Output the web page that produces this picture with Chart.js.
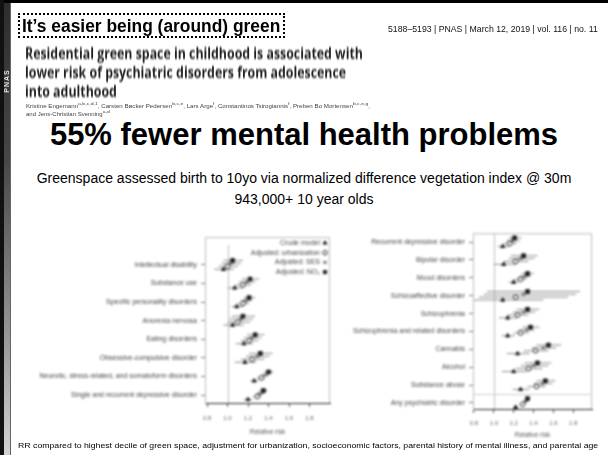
<!DOCTYPE html>
<html>
<head>
<meta charset="utf-8">
<title>Green space and psychiatric risk</title>
<script src="https://cdn.jsdelivr.net/npm/chart.js@4.4.1/dist/chart.umd.min.js"></script>
<style>
body { margin:0; width:608px; height:455px; overflow:hidden; position:relative; background:#fff; font-family:"Liberation Sans", Arial, Helvetica, sans-serif; color:#000; }
.abs { position:absolute; white-space:nowrap; transform-origin:0 0; }
#topbar { left:0; top:0; width:608px; height:3px; background:#000; }
#edge { left:0; top:0; width:4px; height:455px; background:#111; }
#band { left:4px; top:3px; width:6px; height:452px; background:linear-gradient(#2e2e2e, #474747 35%, #9a9a9a 75%, #d2d2d2); border-right:1px solid #666; }
#pnas { left:-9px; top:77px; width:32px; height:8px; line-height:8px; font-size:7px; font-weight:bold; letter-spacing:1px; text-align:center; color:#ddd; transform:rotate(-90deg); transform-origin:50% 50%; filter:blur(0.5px); }
#titlebox { left:18px; top:13px; width:263px; height:21px; border:2px dotted #000; }
#title { left:22px; top:16px; font-size:18px; line-height:21px; font-weight:bold; }
#cite { left:388px; top:24px; font-size:9px; line-height:11px; color:#111; }
.paper { left:25px; font-family:"Open Sans", sans-serif; font-weight:700; font-size:16px; line-height:19px; color:#222; filter:blur(0.8px); }
.authors { left:26px; font-size:5px; line-height:8px; color:#444; filter:blur(0.6px); }
#headline { left:0; width:608px; top:117px; text-align:center; font-size:31px; line-height:36px; font-weight:bold; }
.sub { left:0; width:608px; text-align:center; font-size:14px; line-height:16px; }
#note { left:18px; top:441px; font-size:8px; line-height:10px; }
canvas { position:absolute; filter:blur(0.85px); }
#leftPlot { left:12px; top:228px; }
#rightPlot { left:320px; top:225px; }
</style>
</head>
<body>
<div id="topbar" class="abs"></div>
<div id="edge" class="abs"></div>
<div id="band" class="abs"></div>
<div id="pnas" class="abs">PNAS</div>

<div id="titlebox" class="abs"></div>
<div id="title" class="abs" data-w="258">It’s easier being (around) green</div>
<div id="cite" class="abs" data-w="210">5188–5193 | PNAS | March 12, 2019 | vol. 116 | no. 11</div>

<div id="paper1" class="abs paper" style="top:44px" data-w="338">Residential green space in childhood is associated with</div>
<div class="abs paper follow" style="top:63px">lower risk of psychiatric disorders from adolescence</div>
<div class="abs paper follow" style="top:82px">into adulthood</div>
<div class="abs authors" style="top:100px" data-w="344">Kristine Engemann<sup>a,b,c,d,1</sup>, Carsten Bøcker Pedersen<sup>b,c,e</sup>, Lars Arge<sup>f</sup>, Constantinos Tsirogiannis<sup>f</sup>, Preben Bo Mortensen<sup>b,c,e,g</sup>,</div>
<div class="abs authors" style="top:108px" data-w="84">and Jens-Christian Svenning<sup>a,d</sup></div>

<div id="headline" class="abs">55% fewer mental health problems</div>
<div class="abs sub" style="top:170px">Greenspace assessed birth to 10yo via normalized difference vegetation index @ 30m</div>
<div class="abs sub" style="top:191px">943,000+ 10 year olds</div>

<canvas id="leftPlot" width="326" height="212"></canvas>
<canvas id="rightPlot" width="285" height="220"></canvas>

<div id="note" class="abs" data-w="580">RR compared to highest decile of green space, adjustment for urbanization, socioeconomic factors, parental history of mental illness, and parental age</div>

<script>
// model order: crude, + urbanization, + SES, + NO2
const models = ['Crude model', 'Adjusted: urbanization', 'Adjusted: SES', 'Adjusted: NO₂'];
const xTicks = [0.8, 1.0, 1.2, 1.4, 1.6, 1.8];

const leftRows = ['Intellectual disability', 'Substance use', 'Specific personality disorders', 'Anorexia nervosa',
  'Eating disorders', 'Obsessive-compulsive disorder', 'Neurotic, stress-related, and somatoform disorders',
  'Single and recurrent depressive disorder'];
const leftCrude = [0.96, 1.07, 1.09, 1.05, 1.16, 1.17, 1.26, 1.20];
const leftUrban = [1.00, 1.15, 1.15, 1.10, 1.21, 1.24, 1.33, 1.29];
const leftSes   = [1.03, 1.19, 1.18, 1.13, 1.24, 1.29, 1.37, 1.32];
const leftNo2   = [1.05, 1.22, 1.21, 1.15, 1.27, 1.32, 1.40, 1.35];
const leftCrudeCI = [[0.87, 1.06], [1.00, 1.15], [1.04, 1.15], [0.96, 1.16], [1.08, 1.25], [1.07, 1.28], [1.22, 1.30], [1.16, 1.24]];
const leftUrbanCI = [[0.91, 1.10], [1.08, 1.23], [1.10, 1.21], [1.00, 1.22], [1.13, 1.30], [1.13, 1.36], [1.29, 1.37], [1.25, 1.33]];
const leftSesCI   = [[0.94, 1.13], [1.11, 1.27], [1.13, 1.24], [1.02, 1.25], [1.16, 1.33], [1.18, 1.41], [1.33, 1.41], [1.28, 1.36]];
const leftNo2CI   = [[0.96, 1.15], [1.14, 1.31], [1.16, 1.27], [1.04, 1.27], [1.19, 1.36], [1.21, 1.44], [1.36, 1.45], [1.31, 1.39]];

const rightRows = ['Recurrent depressive disorder', 'Bipolar disorder', 'Mood disorders', 'Schizoaffective disorder',
  'Schizophrenia', 'Schizophrenia and related disorders', 'Cannabis', 'Alcohol', 'Substance abuse',
  'Any psychiatric disorder'];
const rightCrude = [1.09, 1.10, 1.20, 1.09, 1.14, 1.14, 1.24, 1.20, 1.27, 1.22];
const rightUrban = [1.16, 1.22, 1.27, 1.22, 1.24, 1.27, 1.42, 1.35, 1.43, 1.29];
const rightSes   = [1.19, 1.27, 1.31, 1.30, 1.30, 1.33, 1.50, 1.40, 1.49, 1.32];
const rightNo2   = [1.21, 1.30, 1.34, 1.34, 1.34, 1.37, 1.55, 1.44, 1.52, 1.34];
const rightCrudeCI = [[1.04, 1.15], [1.00, 1.22], [1.15, 1.25], [0.80, 1.50], [1.05, 1.24], [1.08, 1.21], [1.13, 1.36], [1.08, 1.33], [1.19, 1.36], [1.20, 1.24]];
const rightUrbanCI = [[1.10, 1.23], [1.10, 1.35], [1.21, 1.33], [0.85, 1.75], [1.14, 1.35], [1.20, 1.35], [1.30, 1.55], [1.22, 1.49], [1.34, 1.52], [1.27, 1.31]];
const rightSesCI   = [[1.13, 1.26], [1.15, 1.41], [1.25, 1.37], [0.90, 1.83], [1.19, 1.42], [1.25, 1.41], [1.38, 1.63], [1.27, 1.55], [1.40, 1.59], [1.30, 1.34]];
const rightNo2CI   = [[1.15, 1.28], [1.17, 1.44], [1.28, 1.40], [0.93, 1.87], [1.23, 1.46], [1.29, 1.46], [1.43, 1.68], [1.31, 1.58], [1.43, 1.62], [1.32, 1.36]];

// squeeze the text blocks to their line widths
document.querySelectorAll('[data-w]').forEach(el => {
  el.style.transform = 'scaleX(' + (+el.dataset.w / el.offsetWidth).toFixed(3) + ')';
});
// the other paper-title lines use the first line's squeeze
const paperScale = document.getElementById('paper1').style.transform;
document.querySelectorAll('.follow').forEach(el => { el.style.transform = paperScale; });

const shapes = ['triangle', 'circle', 'crossRot', 'rect'];
const fills = ['#1e1e1e', '#fff', '#1e1e1e', '#1e1e1e'];
const dodge = [0.24, 0.08, -0.08, -0.24];

const forestPlugin = {
  id: 'forest',
  beforeDatasetsDraw(chart, args, opts) {
    const { ctx, chartArea: a, scales: { x, y } } = chart;
    ctx.save();
    ctx.lineWidth = 1;
    ctx.strokeStyle = '#bbb';
    ctx.beginPath();
    ctx.moveTo(a.left, a.top + 0.5);
    ctx.lineTo(a.right - 0.5, a.top + 0.5);
    ctx.lineTo(a.right - 0.5, a.bottom);
    ctx.stroke();
    // RR = 1 reference
    const x1 = Math.round(x.getPixelForValue(1)) + 0.5;
    ctx.beginPath();
    ctx.moveTo(x1, a.top + opts.refTop);
    ctx.lineTo(x1, a.bottom);
    ctx.stroke();
    if (opts.split != null) {
      const ys = Math.round(y.getPixelForValue(opts.split)) + 0.5;
      ctx.strokeStyle = '#ccc';
      ctx.beginPath();
      ctx.moveTo(a.left, ys);
      ctx.lineTo(a.right, ys);
      ctx.stroke();
    }
    // confidence intervals
    ctx.strokeStyle = '#8c8c8c';
    chart.data.datasets.forEach((ds, di) => {
      chart.getDatasetMeta(di).data.forEach((pt, j) => {
        const d = ds.data[j];
        ctx.beginPath();
        ctx.moveTo(x.getPixelForValue(d.lo), pt.y);
        ctx.lineTo(x.getPixelForValue(d.hi), pt.y);
        ctx.stroke();
      });
    });
    ctx.restore();
  },
  afterDraw(chart, args, opts) {
    if (!opts.legend) return;
    const { ctx, chartArea: a } = chart;
    ctx.save();
    ctx.font = '7px "Liberation Sans", Arial';
    ctx.textAlign = 'right';
    ctx.textBaseline = 'middle';
    chart.data.datasets.forEach((ds, i) => {
      const ly = a.top + 6 + i * 9.7;
      ctx.fillStyle = '#444';
      ctx.fillText(ds.label, a.right - 10, ly);
      ctx.fillStyle = ds.backgroundColor;
      ctx.strokeStyle = ds.borderColor;
      Chart.helpers.drawPoint(ctx, { pointStyle: ds.pointStyle, radius: 2.2, borderWidth: 1, rotation: 0 }, a.right - 5, ly);
    });
    ctx.restore();
  }
};

function forest(id, rows, rr, ci, o) {
  const datasets = models.map((name, m) => ({
    label: name,
    data: rows.map((r, i) => ({ x: rr[m][i], y: i + dodge[m], lo: ci[m][i][0], hi: ci[m][i][1] })),
    pointStyle: shapes[m],
    pointRadius: m === 3 ? 2.6 : 2.3,
    backgroundColor: fills[m],
    borderColor: '#1e1e1e',
    borderWidth: 1
  }));
  return new Chart(document.getElementById(id), {
    type: 'scatter',
    data: { datasets },
    options: {
      responsive: false,
      animation: false,
      layout: { padding: o.pad },
      plugins: {
        legend: { display: false },
        tooltip: { enabled: false },
        forest: { legend: o.legend, refTop: o.refTop, split: o.split }
      },
      scales: {
        x: {
          type: 'linear', min: o.xmin, max: o.xmax,
          afterBuildTicks: s => { s.ticks = xTicks.map(v => ({ value: v })); },
          afterFit: s => { s.height = o.xh; },
          border: { color: '#222', width: 1 },
          grid: { drawOnChartArea: false, tickLength: 4, color: '#555' },
          ticks: { font: { size: 6 }, color: '#666', padding: o.tickPad, callback: v => v.toFixed(1) },
          title: { display: true, text: 'Relative risk', font: { size: 6.5 }, color: '#555', padding: { top: 0, bottom: o.titlePad } }
        },
        y: {
          type: 'linear', reverse: true, min: o.ymin, max: o.ymax,
          afterBuildTicks: s => { s.ticks = rows.map((r, i) => ({ value: i })); },
          afterFit: s => { s.width = o.yw; },
          border: { color: '#bbb' },
          grid: { drawOnChartArea: false, tickLength: 4, color: '#777' },
          ticks: { font: { size: 7 }, color: '#444', padding: 4, autoSkip: false, callback: v => rows[v] }
        }
      }
    },
    plugins: [forestPlugin]
  });
}

forest('leftPlot', leftRows,
  [leftCrude, leftUrban, leftSes, leftNo2],
  [leftCrudeCI, leftUrbanCI, leftSesCI, leftNo2CI],
  { pad: { left: 0, top: 9, right: 8, bottom: 0 }, yw: 193, xh: 37, xmin: 0.78, xmax: 2.0,
    ymin: -1.5, ymax: 7.43, tickPad: 8, titlePad: 4, legend: true, refTop: 8, split: null });

forest('rightPlot', rightRows,
  [rightCrude, rightUrban, rightSes, rightNo2],
  [rightCrudeCI, rightUrbanCI, rightSesCI, rightNo2CI],
  { pad: { left: 0, top: 8, right: 13, bottom: 0 }, yw: 153, xh: 36, xmin: 0.79, xmax: 1.99,
    ymin: -0.5, ymax: 9.34, tickPad: 7, titlePad: 6, legend: false, refTop: 0, split: 8.5 });
</script>
</body>
</html>
